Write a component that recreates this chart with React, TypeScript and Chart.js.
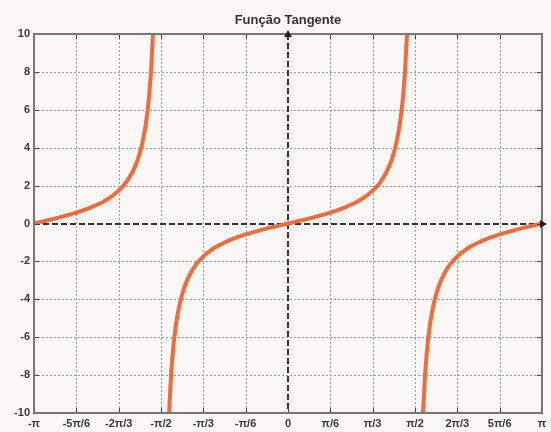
import React, { useEffect, useRef } from "react";
import { Chart, registerables } from "chart.js";

Chart.register(...registerables);

const titleText = "Função Tangente";

const xTickLabels = ["-π", "-5π/6", "-2π/3", "-π/2", "-π/3", "-π/6", "0", "π/6", "π/3", "π/2", "2π/3", "5π/6", "π"];
const yTickValues = [-10, -8, -6, -4, -2, 0, 2, 4, 6, 8, 10];

// x in degrees (-180 = -π ... 180 = π)
const branch1X = [-180, -170, -160, -150, -140, -135, -130, -125, -120, -115, -110, -107, -105, -103, -101, -100, -99, -98, -97, -96.5, -95.71];
const branch1Y = [0, 0.176, 0.364, 0.577, 0.839, 1, 1.192, 1.428, 1.732, 2.145, 2.747, 3.271, 3.732, 4.331, 5.145, 5.671, 6.314, 7.115, 8.144, 8.86, 10];

const branch2X = [-84.29, -83.5, -83, -82, -81, -80, -79, -77, -75, -73, -70, -65, -60, -55, -50, -45, -40, -30, -20, -10, 0, 10, 20, 30, 40, 45, 50, 55, 60, 65, 70, 73, 75, 77, 79, 80, 81, 82, 83, 83.5, 84.29];
const branch2Y = [-10, -8.86, -8.144, -7.115, -6.314, -5.671, -5.145, -4.331, -3.732, -3.271, -2.747, -2.145, -1.732, -1.428, -1.192, -1, -0.839, -0.577, -0.364, -0.176, 0, 0.176, 0.364, 0.577, 0.839, 1, 1.192, 1.428, 1.732, 2.145, 2.747, 3.271, 3.732, 4.331, 5.145, 5.671, 6.314, 7.115, 8.144, 8.86, 10];

const branch3X = [95.71, 96.5, 97, 98, 99, 100, 101, 103, 105, 107, 110, 115, 120, 125, 130, 135, 140, 150, 160, 170, 180];
const branch3Y = [-10, -8.86, -8.144, -7.115, -6.314, -5.671, -5.145, -4.331, -3.732, -3.271, -2.747, -2.145, -1.732, -1.428, -1.192, -1, -0.839, -0.577, -0.364, -0.176, 0];

const CURVE = "#f26b3a";
const FONT = "'Liberation Sans', Arial, sans-serif";

const framePlugin = {
  id: "framePlugin",
  beforeDatasetsDraw(chart: any) {
    const { ctx, chartArea: a, scales } = chart;
    const xs = scales.x;
    const ys = scales.y;
    ctx.save();
    // grid
    ctx.strokeStyle = "#a0a0a0";
    ctx.lineWidth = 1;
    ctx.setLineDash([2, 2]);
    xs.ticks.forEach((t: any) => {
      if (t.value === 0) return;
      const px = Math.round(xs.getPixelForValue(t.value)) + 0.5;
      ctx.beginPath();
      ctx.moveTo(px, a.top);
      ctx.lineTo(px, a.bottom);
      ctx.stroke();
    });
    ys.ticks.forEach((t: any) => {
      if (t.value === 0) return;
      const py = Math.round(ys.getPixelForValue(t.value)) + 0.5;
      ctx.beginPath();
      ctx.moveTo(a.left, py);
      ctx.lineTo(a.right, py);
      ctx.stroke();
    });
    // zero axes
    ctx.strokeStyle = "#333333";
    ctx.lineWidth = 2;
    ctx.setLineDash([6, 3]);
    const x0 = Math.round(xs.getPixelForValue(0));
    const y0 = Math.round(ys.getPixelForValue(0));
    ctx.beginPath();
    ctx.moveTo(x0, a.top);
    ctx.lineTo(x0, a.bottom);
    ctx.stroke();
    ctx.beginPath();
    ctx.moveTo(a.left, y0);
    ctx.lineTo(a.right, y0);
    ctx.stroke();
    ctx.restore();
  },
  afterDatasetsDraw(chart: any) {
    const { ctx, chartArea: a, scales } = chart;
    const xs = scales.x;
    const ys = scales.y;
    ctx.save();
    ctx.setLineDash([]);
    // inner tick marks
    ctx.strokeStyle = "#444444";
    ctx.lineWidth = 1;
    xs.ticks.forEach((t: any) => {
      const px = Math.round(xs.getPixelForValue(t.value)) + 0.5;
      ctx.beginPath();
      ctx.moveTo(px, a.top);
      ctx.lineTo(px, a.top + 5);
      ctx.moveTo(px, a.bottom);
      ctx.lineTo(px, a.bottom - 5);
      ctx.stroke();
    });
    ys.ticks.forEach((t: any) => {
      const py = Math.round(ys.getPixelForValue(t.value)) + 0.5;
      ctx.beginPath();
      ctx.moveTo(a.left, py);
      ctx.lineTo(a.left + 5, py);
      ctx.moveTo(a.right, py);
      ctx.lineTo(a.right - 5, py);
      ctx.stroke();
    });
    // frame
    ctx.strokeStyle = "#777777";
    ctx.lineWidth = 2;
    ctx.strokeRect(a.left, a.top, a.right - a.left, a.bottom - a.top);
    // arrows
    const x0 = Math.round(xs.getPixelForValue(0));
    const y0 = Math.round(ys.getPixelForValue(0));
    ctx.fillStyle = "#222222";
    ctx.beginPath();
    ctx.moveTo(x0, a.top - 4);
    ctx.lineTo(x0 - 4, a.top + 3);
    ctx.lineTo(x0 + 4, a.top + 3);
    ctx.closePath();
    ctx.fill();
    ctx.beginPath();
    ctx.moveTo(a.right + 5, y0);
    ctx.lineTo(a.right - 2, y0 - 4);
    ctx.lineTo(a.right - 2, y0 + 4);
    ctx.closePath();
    ctx.fill();
    // title
    ctx.fillStyle = "#333333";
    ctx.font = `bold 13px ${FONT}`;
    ctx.textAlign = "center";
    ctx.textBaseline = "middle";
    ctx.fillText(titleText, (a.left + a.right) / 2, 20);
    ctx.restore();
  },
};

const bgPlugin = {
  id: "bgPlugin",
  beforeDraw(chart: any) {
    const { ctx, width, height } = chart;
    ctx.save();
    ctx.fillStyle = "#f9f8f6";
    ctx.fillRect(0, 0, width, height);
    ctx.restore();
  },
};

export default function App() {
  const ref = useRef<HTMLCanvasElement>(null);
  useEffect(() => {
    if (!ref.current) return;
    const mk = (xs: number[], ys: number[]) => xs.map((x, i) => ({ x, y: ys[i] }));
    const ds = (d: any) => ({
      data: d,
      borderColor: CURVE,
      borderWidth: 4,
      pointRadius: 0,
      fill: false,
      cubicInterpolationMode: "monotone" as const,
    });
    const chart = new Chart(ref.current, {
      type: "line",
      data: {
        datasets: [
          ds(mk(branch1X, branch1Y)),
          ds(mk(branch2X, branch2Y)),
          ds(mk(branch3X, branch3Y)),
        ],
      },
      options: {
        responsive: false,
        animation: false,
        layout: { padding: { top: 34, right: 9, bottom: 0, left: 0 } },
        plugins: { legend: { display: false }, tooltip: { enabled: false }, title: { display: false } },
        scales: {
          x: {
            type: "linear",
            min: -180,
            max: 180,
            grid: { display: false, drawTicks: false },
            border: { display: false },
            afterBuildTicks: (s: any) => {
              s.ticks = xTickLabels.map((_, i) => ({ value: -180 + i * 30 }));
            },
            afterFit: (s: any) => {
              s.height = 19;
            },
            ticks: {
              autoSkip: false,
              maxRotation: 0,
              padding: 4,
              color: "#3a3a3a",
              font: { family: FONT, size: 11, weight: "bold" },
              callback: (v: any) => {
                const i = Math.round((Number(v) + 180) / 30);
                return xTickLabels[i] ?? "";
              },
            },
          },
          y: {
            type: "linear",
            min: -10,
            max: 10,
            grid: { display: false, drawTicks: false },
            border: { display: false },
            afterBuildTicks: (s: any) => {
              s.ticks = yTickValues.map((v) => ({ value: v }));
            },
            afterFit: (s: any) => {
              s.width = 34;
            },
            ticks: {
              autoSkip: false,
              padding: 4,
              color: "#3a3a3a",
              font: { family: FONT, size: 11, weight: "bold" },
              callback: (v: any) => String(v),
            },
          },
        },
      },
      plugins: [bgPlugin, framePlugin],
    });
    return () => chart.destroy();
  }, []);
  return (
    <div style={{ position: "fixed", left: 0, top: 0, width: 551, height: 432, background: "#f9f8f6" }}>
      <canvas ref={ref} width={551} height={432} style={{ display: "block" }} />
    </div>
  );
}
